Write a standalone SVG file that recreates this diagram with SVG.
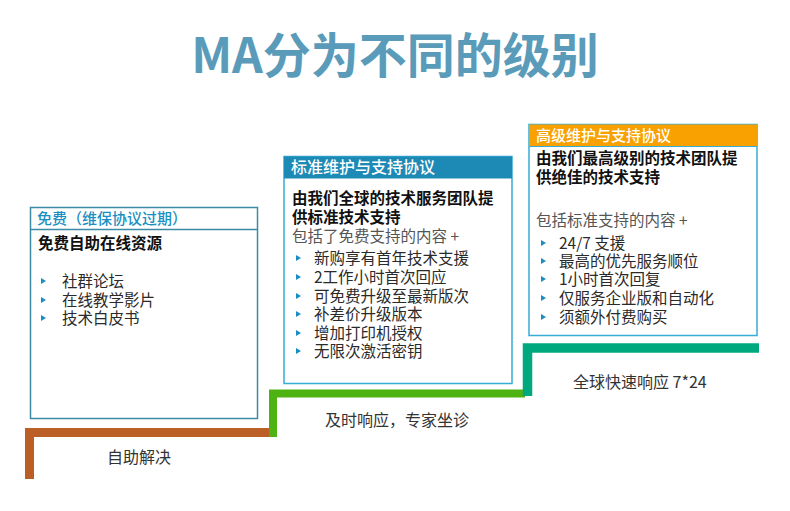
<svg xmlns="http://www.w3.org/2000/svg" width="790" height="511" viewBox="0 0 790 511">
<style>
text{font-family:"Noto Sans CJK SC","Noto Sans",sans-serif;}
.title{font-size:48px;font-weight:700;fill:#5a9bba;}
.hd{font-size:15px;font-weight:500;fill:#ffffff;}
.hd1{font-size:15px;font-weight:500;fill:#1b8fc2;}
.bt{font-size:15.5px;font-weight:700;fill:#111;}
.gr{font-size:15.5px;fill:#555;}
.li{font-size:15.5px;fill:#2a2a2a;}
.lb{font-size:16px;fill:#333;}
.tri{fill:#1a8cc4;}
.step{fill:none;stroke-linejoin:miter;stroke-linecap:butt;}
</style>
<defs>
<path id="b" d="M0,-3 L5,0 L0,3 Z" class="tri"/>
</defs>
<rect width="790" height="511" fill="#fff"/>
<text class="title" x="395" y="73" text-anchor="middle">MA分为不同的级别</text>

<g id="connectors">
<path class="step" d="M29.5,479 V432.5 H271" stroke="#bb5f27" stroke-width="9"/>
<path class="step" d="M273,437 V393.5 H525" stroke="#4db212" stroke-width="8"/>
<path class="step" d="M527.5,396 V348 H759" stroke="#00a97d" stroke-width="9.5"/>
</g>

<g id="free">
<rect x="30.5" y="207.5" width="227" height="211" fill="#fff" stroke="#3a8ba3" stroke-width="1.5"/>
<line x1="30.5" y1="229.5" x2="257.5" y2="229.5" stroke="#3a8ba3" stroke-width="1.5"/>
<text class="hd1" x="37" y="224">免费（维保协议过期）</text>
<text class="bt" x="38" y="249">免费自助在线资源</text>
<use href="#b" x="41" y="281"/><text class="li" x="62" y="287">社群论坛</text>
<use href="#b" x="41" y="300"/><text class="li" x="62" y="306">在线教学影片</text>
<use href="#b" x="41" y="318"/><text class="li" x="62" y="324">技术白皮书</text>
</g>

<g id="standard">
<rect x="284" y="156.5" width="228" height="227" fill="#fff" stroke="#36acd6" stroke-width="1.5"/>
<rect x="284" y="156.5" width="228" height="22" fill="#1d8ab6"/>
<text class="hd" x="291" y="173" style="font-size:16px">标准维护与支持协议</text>
<text class="bt" x="292" y="204">由我们全球的技术服务团队提</text>
<text class="bt" x="292" y="223">供标准技术支持</text>
<text class="gr" x="292" y="242">包括了免费支持的内容 +</text>
<use href="#b" x="296" y="258"/><text class="li" x="314" y="264">新购享有首年技术支援</text>
<use href="#b" x="296" y="277"/><text class="li" x="314" y="283">2工作小时首次回应</text>
<use href="#b" x="296" y="296"/><text class="li" x="314" y="302">可免费升级至最新版次</text>
<use href="#b" x="296" y="314"/><text class="li" x="314" y="320">补差价升级版本</text>
<use href="#b" x="296" y="333"/><text class="li" x="314" y="339">增加打印机授权</text>
<use href="#b" x="296" y="351"/><text class="li" x="314" y="357">无限次激活密钥</text>
</g>

<g id="premium">
<rect x="529" y="124.5" width="228" height="211" fill="#fff" stroke="#36acd6" stroke-width="1.5"/>
<rect x="529" y="124.5" width="228" height="22" fill="#f8a100"/>
<line x1="529" y1="146.5" x2="757" y2="146.5" stroke="#36acd6" stroke-width="1"/>
<text class="hd" x="536" y="141">高级维护与支持协议</text>
<text class="bt" x="536" y="164">由我们最高级别的技术团队提</text>
<text class="bt" x="536" y="183">供绝佳的技术支持</text>
<text class="gr" x="536" y="226">包括标准支持的内容 +</text>
<use href="#b" x="541" y="243"/><text class="li" x="559" y="249">24/7 支援</text>
<use href="#b" x="541" y="261"/><text class="li" x="559" y="267">最高的优先服务顺位</text>
<use href="#b" x="541" y="279"/><text class="li" x="559" y="285">1小时首次回复</text>
<use href="#b" x="541" y="298"/><text class="li" x="559" y="304">仅服务企业版和自动化</text>
<use href="#b" x="541" y="317"/><text class="li" x="559" y="323">须额外付费购买</text>
</g>

<g id="labels">
<text class="lb" x="107" y="463">自助解决</text>
<text class="lb" x="325" y="426">及时响应，专家坐诊</text>
<text class="lb" x="573" y="388">全球快速响应 7*24</text>
</g>
</svg>
